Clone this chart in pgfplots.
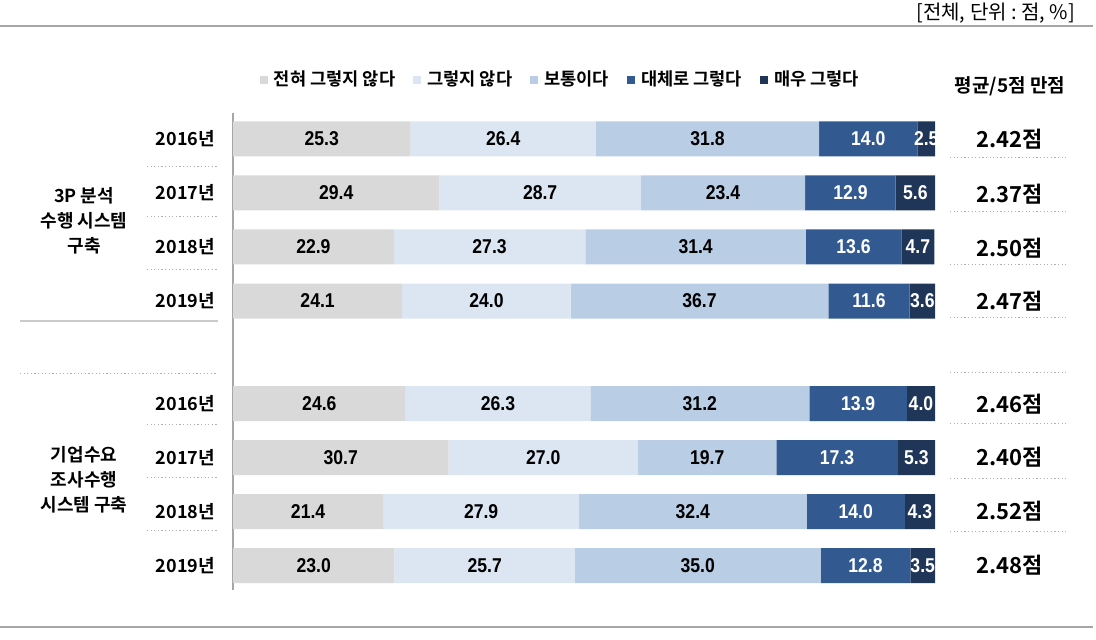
\documentclass[border=0pt]{standalone}
\usepackage{fontspec}
\setmainfont{Noto Sans CJK KR}[BoldFont={Noto Sans CJK KR Bold}]
\newfontfamily\numfont{Liberation Sans}[FakeStretch=0.88]
\usepackage{pgfplots}
\usepackage{pgfplotstable}
\pgfplotsset{compat=1.18}
\definecolor{c1}{HTML}{D9D9D9}
\definecolor{c2}{HTML}{DCE6F2}
\definecolor{c3}{HTML}{B9CDE5}
\definecolor{c4}{HTML}{325A91}
\definecolor{c5}{HTML}{203659}
\definecolor{linegray}{HTML}{A6A6A6}
\definecolor{dotgray}{HTML}{B0B0B0}

\pgfplotstableread{
pos a b c d e
0 25.3 26.4 31.8 14.0 2.5
1 29.4 28.7 23.4 12.9 5.6
2 22.9 27.3 31.4 13.6 4.7
3 24.1 24.0 36.7 11.6 3.6
4.9 24.6 26.3 31.2 13.9 4.0
5.9 30.7 27.0 19.7 17.3 5.3
6.9 21.4 27.9 32.4 14.0 4.3
7.9 23.0 25.7 35.0 12.8 3.5
}\datatable

\pgfplotsset{
  seg/.style n args={2}{
    fill=#1, draw=none,
    point meta=explicit,
    nodes near coords={\pgfmathprintnumber[fixed,fixed zerofill,precision=1]{\pgfplotspointmeta}},
    every node near coord/.append style={anchor=center, text=#2,
      font=\numfont\bfseries\fontsize{10}{11}\selectfont},
  }
}

\begin{document}
\begin{tikzpicture}
\path[use as bounding box] (0pt,0pt) rectangle (548pt,-320pt);
\begin{axis}[
  at={(116.5pt,-295pt)}, anchor=south west,
  width=351pt, height=238.5pt, scale only axis,
  xbar stacked, bar width=17.5pt,
  xmin=0, xmax=100, ymin=-0.48, ymax=8.35, y dir=reverse,
  axis x line=none, axis y line*=left,
  y axis line style={draw=linegray, line width=0.8pt},
  ytick={0,1,2,3,4.9,5.9,6.9,7.9},
  yticklabels={2016년,2017년,2018년,2019년,2016년,2017년,2018년,2019년},
  yticklabel style={font=\bfseries\fontsize{9}{10}\selectfont, xshift=-5.5pt},
  major tick length=0pt,
  clip=false,
  /pgf/number format/assume math mode=true,
  legend columns=5,
  legend style={at={(0.468,1.069)}, anchor=center, draw=none, fill=none,
    font=\bfseries\fontsize{8.8}{10}\selectfont,
    /tikz/every even column/.append style={column sep=7pt},
    /tikz/every odd column/.append style={column sep=1pt}},
  legend image code/.code={\fill[#1] (0pt,-2.2pt) rectangle (4pt,1.8pt);},
]
\addplot[seg={c1}{black}] table[x=a, y=pos, meta=a] {\datatable};
\addplot[seg={c2}{black}] table[x=b, y=pos, meta=b] {\datatable};
\addplot[seg={c3}{black}] table[x=c, y=pos, meta=c] {\datatable};
\addplot[seg={c4}{white}] table[x=d, y=pos, meta=d] {\datatable};
\addplot[seg={c5}{white}] table[x=e, y=pos, meta=e] {\datatable};
\legend{전혀 그렇지 않다, 그렇지 않다, 보통이다, 대체로 그렇다, 매우 그렇다}
\end{axis}
\begin{scope}[x=0.5pt, y=-0.5pt]
  % frame lines
  \draw[linegray, line width=1pt] (0,26) -- (1093,26);
  \draw[linegray, line width=1pt] (0,627) -- (1093,627);
  \node[anchor=east, font=\fontsize{10}{12}\selectfont] at (1082,13) {[전체,\ 단위\ :\ 점,\ \%]};
  \node[font=\bfseries\fontsize{9.5}{11}\selectfont] at (1010,86) {평균/5점 만점};
  % averages
  \foreach \yy/\v in {139/2.42, 194/2.37, 248/2.50, 301/2.47, 404/2.46, 457/2.40, 511/2.52, 565/2.48}{
    \node[font=\bfseries\fontsize{11}{13}\selectfont] at (1010,\yy) {\v 점};
  }
  % right dotted lines
  \foreach \yy in {158,212,265,318,373,424,478,531}{
    \draw[dotgray, line width=0.5pt, dash pattern=on 0.6pt off 1.2pt] (950,\yy) -- (1067,\yy);
  }
  % left dotted lines
  \foreach \yy in {167,217,270,425,477,530}{
    \draw[dotgray, line width=0.5pt, dash pattern=on 0.6pt off 1.2pt] (147,\yy) -- (218,\yy);
  }
  \draw[linegray!60, line width=1pt] (20,321) -- (218,321);
  \draw[dotgray, line width=0.5pt, dash pattern=on 0.6pt off 1.2pt] (20,374) -- (218,374);
  % group labels
  \node[font=\bfseries\fontsize{9}{12.5}\selectfont, align=center] at (84,221) {3P 분석\\수행 시스템\\구축};
  \node[font=\bfseries\fontsize{9}{12.5}\selectfont, align=center] at (84,480) {기업수요\\조사수행\\시스템 구축};
\end{scope}
\end{tikzpicture}
\end{document}
